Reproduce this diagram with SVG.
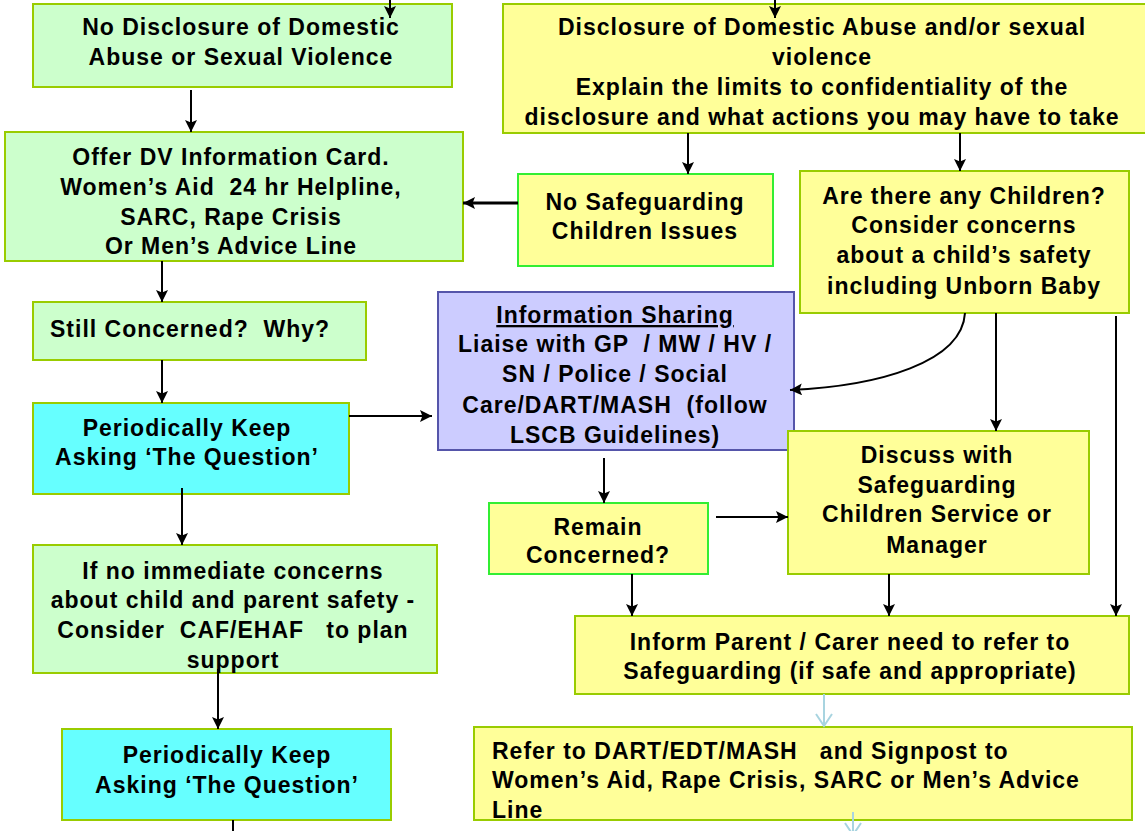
<svg xmlns="http://www.w3.org/2000/svg" width="1145" height="831" viewBox="0 0 1145 831">
<defs>
<style>
.t{font-family:"Liberation Sans",Arial,sans-serif;font-weight:bold;font-size:23px;letter-spacing:1px;fill:#000;white-space:pre}
.c{text-anchor:middle}
.g{fill:#ccffcc;stroke:#99cc00;stroke-width:2}
.y{fill:#ffff99;stroke:#99cc00;stroke-width:2}
.yb{fill:#ffff99;stroke:#33ee33;stroke-width:2}
.cy{fill:#66ffff;stroke:#99cc00;stroke-width:2}
.p{fill:#ccccff;stroke:#5555aa;stroke-width:2}
.a{fill:none;stroke:#000;stroke-width:2;marker-end:url(#ah)}
.lb{fill:none;stroke:#a8d4e0;stroke-width:2}
</style>
<marker id="ah" viewBox="0 0 10 10" refX="10" refY="5" markerWidth="12" markerHeight="12" markerUnits="userSpaceOnUse" orient="auto">
<path d="M0,0 L10,5 L0,10 L2,5 z" fill="#000"/>
</marker>
</defs>

<g id="n1"><rect class="g" x="33" y="4" width="419" height="83"/>
<text class="t c" x="241" y="35">No Disclosure of Domestic</text>
<text class="t c" x="241" y="65">Abuse or Sexual Violence</text></g>

<g id="n2"><rect class="g" x="5" y="132" width="458" height="129"/>
<text class="t c" x="231" y="165">Offer DV Information Card.</text>
<text class="t c" x="231" y="195">Women’s Aid  24 hr Helpline,</text>
<text class="t c" x="231" y="225">SARC, Rape Crisis</text>
<text class="t c" x="231" y="254">Or Men’s Advice Line</text></g>

<g id="n3"><rect class="g" x="33" y="302" width="333" height="58"/>
<text class="t" x="50" y="337">Still Concerned?  Why?</text></g>

<g id="n4"><rect class="cy" x="33" y="403" width="316" height="91"/>
<text class="t c" x="187" y="436">Periodically Keep</text>
<text class="t c" x="187" y="465">Asking ‘The Question’</text></g>

<g id="n5"><rect class="g" x="33" y="545" width="404" height="128"/>
<text class="t c" x="233" y="579">If no immediate concerns</text>
<text class="t c" x="233" y="608">about child and parent safety -</text>
<text class="t c" x="233" y="638">Consider  CAF/EHAF   to plan</text>
<text class="t c" x="233" y="668">support</text></g>

<g id="n6"><rect class="cy" x="62" y="729" width="329" height="91"/>
<text class="t c" x="227" y="763">Periodically Keep</text>
<text class="t c" x="227" y="793">Asking ‘The Question’</text></g>

<g id="n7"><rect class="y" x="503" y="4" width="645" height="129"/>
<text class="t c" x="822" y="35">Disclosure of Domestic Abuse and/or sexual</text>
<text class="t c" x="822" y="65">violence</text>
<text class="t c" x="822" y="95">Explain the limits to confidentiality of the</text>
<text class="t c" x="822" y="125">disclosure and what actions you may have to take</text></g>

<g id="n8"><rect class="yb" x="518" y="174" width="255" height="92"/>
<text class="t c" x="645" y="210">No Safeguarding</text>
<text class="t c" x="645" y="239">Children Issues</text></g>

<g id="n9"><rect class="y" x="800" y="171" width="329" height="142"/>
<text class="t c" x="964" y="204">Are there any Children?</text>
<text class="t c" x="964" y="233">Consider concerns</text>
<text class="t c" x="964" y="263">about a child’s safety</text>
<text class="t c" x="964" y="294">including Unborn Baby</text></g>

<g id="n10"><rect class="p" x="438" y="292" width="356" height="158"/>
<text class="t c" x="615" y="323" text-decoration="underline">Information Sharing</text>
<text class="t c" x="615" y="352">Liaise with GP  / MW / HV /</text>
<text class="t c" x="615" y="382">SN / Police / Social</text>
<text class="t c" x="615" y="413">Care/DART/MASH  (follow</text>
<text class="t c" x="615" y="443">LSCB Guidelines)</text></g>

<g id="n11"><rect class="y" x="788" y="431" width="301" height="143"/>
<text class="t c" x="937" y="463">Discuss with</text>
<text class="t c" x="937" y="493">Safeguarding</text>
<text class="t c" x="937" y="522">Children Service or</text>
<text class="t c" x="937" y="553">Manager</text></g>

<g id="n12"><rect class="yb" x="489" y="503" width="219" height="71"/>
<text class="t c" x="598" y="535">Remain</text>
<text class="t c" x="598" y="563">Concerned?</text></g>

<g id="n13"><rect class="y" x="575" y="616" width="554" height="78"/>
<text class="t c" x="850" y="650">Inform Parent / Carer need to refer to</text>
<text class="t c" x="850" y="679">Safeguarding (if safe and appropriate)</text></g>

<g id="n14"><rect class="y" x="474" y="727" width="658" height="93"/>
<text class="t" x="492" y="759">Refer to DART/EDT/MASH   and Signpost to</text>
<text class="t" x="492" y="788">Women’s Aid, Rape Crisis, SARC or Men’s Advice</text>
<text class="t" x="492" y="818">Line</text></g>

<g id="connectors">
<path class="a" d="M390,0 V18"/>
<path class="a" d="M775,0 V18"/>
<path class="a" d="M191,90 V132"/>
<path class="a" d="M518,203 H463" style="stroke-width:3"/>
<path class="a" d="M688,133 V174"/>
<path class="a" d="M960,133 V171"/>
<path class="a" d="M162,261 V302"/>
<path class="a" d="M162,360 V403"/>
<path class="a" d="M349,416 H432"/>
<path class="a" d="M182,488 V545"/>
<path class="a" d="M218,669 V729"/>
<path d="M233,820 V831" stroke="#000" stroke-width="2"/>
<path class="a" d="M965,313 C962,362 880,386 790,390"/>
<path class="a" d="M996,313 V431"/>
<path class="a" d="M1116,316 V616"/>
<path class="a" d="M604,458 V503"/>
<path class="a" d="M716,517 H788"/>
<path class="a" d="M632,574 V616"/>
<path class="a" d="M889,574 V616"/>
<path class="lb" d="M824,694 V726 M816,714 L824,726 L832,714"/>
<path class="lb" d="M853,812 V838 M845,823 L853,835 L861,823"/>
</g>
</svg>
